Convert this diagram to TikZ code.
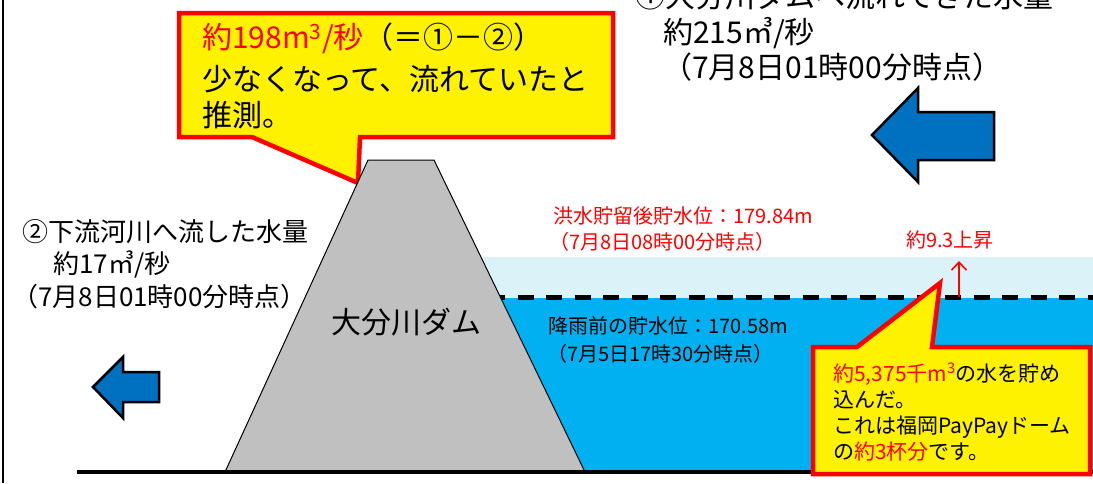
\documentclass[tikz,border=0pt]{standalone}
\usepackage{fontspec}
\usepackage{xcolor}
\usepackage{tikz}
\usetikzlibrary{positioning,arrows.meta}
\newfontfamily\jpfont{Noto Sans CJK JP}
\definecolor{damgray}{HTML}{C0C0C0}
\definecolor{lakeblue}{HTML}{00B0F0}
\definecolor{floodblue}{HTML}{DAF2F8}
\definecolor{flowblue}{HTML}{0070C0}

\begin{document}
\begin{tikzpicture}[x=1pt, y=-1pt,
          every node/.style = {inner sep=0pt, anchor=west, font=\jpfont},
          bigtext/.style = {font=\jpfont\fontsize{30}{36}\selectfont},
          midtext/.style = {font=\jpfont\fontsize{26}{32}\selectfont},
          smalltext/.style = {font=\jpfont\fontsize{20}{24}\selectfont},
          notetext/.style = {font=\jpfont\fontsize{21}{26}\selectfont},
          balloon/.style = {draw=red, fill=yellow, line width=4.5pt},
          flowarrow/.style = {draw=black, fill=flowblue, line width=2.5pt}]
          \clip (0,0) rectangle (1093,483);
          \fill[white] (0,0) rectangle (1093,483);
          \draw[line width=1.2pt] (3,0) -- (3,483);

          % reservoir
          \fill[floodblue] (450,257) rectangle (1093,298);
          \fill[lakeblue] (450,298) rectangle (1093,472);
          \draw[line width=5pt, dash pattern=on 16pt off 12.5pt] (460.5,297) -- (1093,297);

          % upper balloon
          \path[balloon] (179,13) -- (613,13) -- (613,137) -- (360,137)
            -- (358,183) -- (252,137) -- (179,137) -- cycle;

          % dam
          \draw[fill=damgray, line width=1pt] (368,160) -- (434,160) -- (585,472) -- (225,472) -- cycle;
          \draw[line width=3.5pt] (77,472) -- (1093,472);

          % flow arrows
          \path[flowarrow] (93,387) -- (123,357) -- (123,372) -- (159,372)
            -- (159,402) -- (123,402) -- (123,418) -- cycle;
          \path[flowarrow] (872,135) -- (918,88) -- (918,112) -- (994,112)
            -- (994,160) -- (918,160) -- (918,182) -- cycle;

          % lower balloon
          \path[balloon] (813,347) -- (857,347) -- (940,283) -- (932,347)
            -- (1090,347) -- (1090,474) -- (813,474) -- cycle;

          \coordinate (riseFoot) at (959,297);
          \coordinate (riseHead) at (959,261);
          \draw[red, line width=1.6pt, -{Straight Barb[length=8pt, width=15pt]}] (riseFoot) -- (riseHead);

          \node[bigtext, text=red] (rateA) at (202,38) {約198m\textsuperscript{3}/秒\textcolor{black}{（＝①－②）}};
          \node[bigtext] (guessA) at (202,79) {少なくなって、流れていたと};
          \node[bigtext] (guessB) at (202,115) {推測。};

          \node[bigtext] (inflowT) at (635,-4) {①大分川ダムへ流れてきた水量};
          \node[bigtext] (inflowQ) at (663,33) {約215㎥/秒};
          \node[bigtext] (inflowD) at (662,67) {（7月8日01時00分時点）};

          \node[midtext] (outflowT) at (22,232) {②下流河川へ流した水量};
          \node[midtext] (outflowQ) at (53,264) {約17㎥/秒};
          \node[midtext] (outflowD) at (12,297) {（7月8日01時00分時点）};

          \node[bigtext, anchor=center] (damName) at (406,322) {大分川ダム};

          \node[smalltext, text=red] (floodLv) at (553,216) {洪水貯留後貯水位：179.84m};
          \node[smalltext, text=red] (floodDt) at (549,242) {（7月8日08時00分時点）};
          \node[smalltext, text=red, anchor=center] (riseLbl) at (950,240) {約9.3上昇};
          \node[smalltext] (normLv) at (548,326) {降雨前の貯水位：170.58m};
          \node[smalltext] (normDt) at (547,354) {（7月5日17時30分時点）};

          \node[notetext] (storeA) at (833,374) {\textcolor{red}{約5,375千m\textsuperscript{3}}の水を貯め};
          \node[notetext] (storeB) at (833,400) {込んだ。};
          \node[notetext] (storeC) at (833,427) {これは福岡PayPayドーム};
          \node[notetext] (storeD) at (833,452) {の\textcolor{red}{約3杯分}です。};
\end{tikzpicture}
\end{document}
